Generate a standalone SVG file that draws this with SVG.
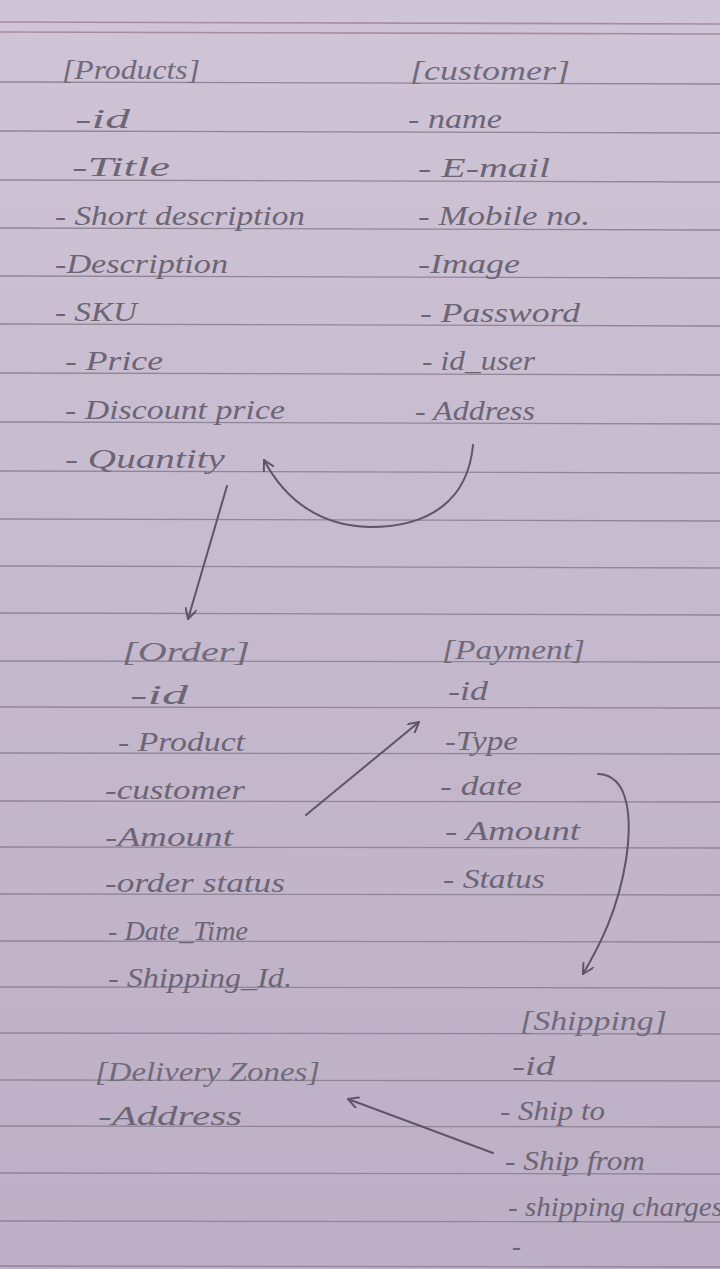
<svg xmlns="http://www.w3.org/2000/svg" width="720" height="1269" viewBox="0 0 720 1269">
<defs>
<linearGradient id="paper" x1="0" y1="0" x2="0" y2="1">
<stop offset="0" stop-color="#cfc5d6"/>
<stop offset="0.5" stop-color="#c5b9cd"/>
<stop offset="1" stop-color="#bdafc5"/>
</linearGradient>
<marker id="arr" markerWidth="12" markerHeight="12" refX="11" refY="6" orient="auto" markerUnits="userSpaceOnUse" viewBox="0 0 12 12">
<path d="M0,0 L11,6 L0,12" fill="none" stroke="#5e5668" stroke-width="2" stroke-linecap="round" stroke-linejoin="round"/>
</marker>
<style>
.rule{stroke:#8f8697;stroke-width:1.3}
.red{stroke:#a88b9c;stroke-width:1.6}
text{font-family:"Liberation Serif",serif;font-style:italic;font-size:27px;fill:#6c6576}
.h{fill:#716a7b}
.c{fill:none;stroke:#5e5668;stroke-width:2;stroke-linecap:round;marker-end:url(#arr)}
</style>
</defs>
<rect width="720" height="1269" fill="url(#paper)"/>
<g id="rules">
<line class="red" x1="0" y1="22" x2="720" y2="24"/>
<line class="red" x1="0" y1="32" x2="720" y2="34"/>
<line class="rule" x1="0" y1="82" x2="720" y2="84"/>
<line class="rule" x1="0" y1="131" x2="720" y2="133"/>
<line class="rule" x1="0" y1="180" x2="720" y2="182"/>
<line class="rule" x1="0" y1="228" x2="720" y2="230"/>
<line class="rule" x1="0" y1="276" x2="720" y2="278"/>
<line class="rule" x1="0" y1="324" x2="720" y2="326"/>
<line class="rule" x1="0" y1="373" x2="720" y2="375"/>
<line class="rule" x1="0" y1="422" x2="720" y2="424"/>
<line class="rule" x1="0" y1="471" x2="720" y2="473"/>
<line class="rule" x1="0" y1="519" x2="720" y2="521"/>
<line class="rule" x1="0" y1="566" x2="720" y2="568"/>
<line class="rule" x1="0" y1="613" x2="720" y2="615"/>
<line class="rule" x1="0" y1="661" x2="720" y2="662"/>
<line class="rule" x1="0" y1="707" x2="720" y2="708"/>
<line class="rule" x1="0" y1="753" x2="720" y2="754"/>
<line class="rule" x1="0" y1="801" x2="720" y2="802"/>
<line class="rule" x1="0" y1="847" x2="720" y2="848"/>
<line class="rule" x1="0" y1="894" x2="720" y2="895"/>
<line class="rule" x1="0" y1="941" x2="720" y2="942"/>
<line class="rule" x1="0" y1="987" x2="720" y2="988"/>
<line class="rule" x1="0" y1="1033" x2="720" y2="1034"/>
<line class="rule" x1="0" y1="1080" x2="720" y2="1081"/>
<line class="rule" x1="0" y1="1126" x2="720" y2="1127"/>
<line class="rule" x1="0" y1="1173" x2="720" y2="1174"/>
<line class="rule" x1="0" y1="1221" x2="720" y2="1222"/>
<line class="rule" x1="0" y1="1266" x2="720" y2="1267"/>
</g>
<g id="products">
<text class="h" x="62" y="79" textLength="138" lengthAdjust="spacingAndGlyphs">[Products]</text>
<text x="75" y="128" textLength="55" lengthAdjust="spacingAndGlyphs">-id</text>
<text x="72" y="176" textLength="98" lengthAdjust="spacingAndGlyphs">-Title</text>
<text x="55" y="225" textLength="250" lengthAdjust="spacingAndGlyphs">- Short description</text>
<text x="55" y="273" textLength="173" lengthAdjust="spacingAndGlyphs">-Description</text>
<text x="55" y="321" textLength="82" lengthAdjust="spacingAndGlyphs">- SKU</text>
<text x="65" y="370" textLength="98" lengthAdjust="spacingAndGlyphs">- Price</text>
<text x="65" y="419" textLength="220" lengthAdjust="spacingAndGlyphs">- Discount price</text>
<text x="65" y="468" textLength="160" lengthAdjust="spacingAndGlyphs">- Quantity</text>
</g>
<g id="customer">
<text class="h" x="410" y="80" textLength="160" lengthAdjust="spacingAndGlyphs">[customer]</text>
<text x="408" y="128" textLength="94" lengthAdjust="spacingAndGlyphs">- name</text>
<text x="418" y="177" textLength="132" lengthAdjust="spacingAndGlyphs">- E-mail</text>
<text x="418" y="225" textLength="172" lengthAdjust="spacingAndGlyphs">- Mobile no.</text>
<text x="418" y="273" textLength="102" lengthAdjust="spacingAndGlyphs">-Image</text>
<text x="420" y="322" textLength="160" lengthAdjust="spacingAndGlyphs">- Password</text>
<text x="422" y="370" textLength="113" lengthAdjust="spacingAndGlyphs">- id_user</text>
<text x="415" y="420" textLength="120" lengthAdjust="spacingAndGlyphs">- Address</text>
</g>
<g id="order">
<text class="h" x="122" y="661" textLength="128" lengthAdjust="spacingAndGlyphs">[Order]</text>
<text x="130" y="704" textLength="58" lengthAdjust="spacingAndGlyphs">-id</text>
<text x="118" y="751" textLength="127" lengthAdjust="spacingAndGlyphs">- Product</text>
<text x="105" y="799" textLength="140" lengthAdjust="spacingAndGlyphs">-customer</text>
<text x="105" y="846" textLength="128" lengthAdjust="spacingAndGlyphs">-Amount</text>
<text x="105" y="892" textLength="180" lengthAdjust="spacingAndGlyphs">-order status</text>
<text x="108" y="940" textLength="140" lengthAdjust="spacingAndGlyphs">- Date_Time</text>
<text x="108" y="987" textLength="184" lengthAdjust="spacingAndGlyphs">- Shipping_Id.</text>
</g>
<g id="payment">
<text class="h" x="442" y="659" textLength="143" lengthAdjust="spacingAndGlyphs">[Payment]</text>
<text x="448" y="700" textLength="40" lengthAdjust="spacingAndGlyphs">-id</text>
<text x="445" y="750" textLength="73" lengthAdjust="spacingAndGlyphs">-Type</text>
<text x="440" y="795" textLength="82" lengthAdjust="spacingAndGlyphs">- date</text>
<text x="445" y="840" textLength="135" lengthAdjust="spacingAndGlyphs">- Amount</text>
<text x="443" y="888" textLength="102" lengthAdjust="spacingAndGlyphs">- Status</text>
</g>
<g id="shipping">
<text class="h" x="520" y="1030" textLength="147" lengthAdjust="spacingAndGlyphs">[Shipping]</text>
<text x="512" y="1075" textLength="43" lengthAdjust="spacingAndGlyphs">-id</text>
<text x="500" y="1120" textLength="105" lengthAdjust="spacingAndGlyphs">- Ship to</text>
<text x="505" y="1170" textLength="140" lengthAdjust="spacingAndGlyphs">- Ship from</text>
<text x="508" y="1216" textLength="215" lengthAdjust="spacingAndGlyphs">- shipping charges</text>
<text x="512" y="1255">-</text>
</g>
<g id="delivery_zones">
<text class="h" x="95" y="1081" textLength="225" lengthAdjust="spacingAndGlyphs">[Delivery Zones]</text>
<text x="98" y="1125" textLength="144" lengthAdjust="spacingAndGlyphs">-Address</text>
</g>
<g id="connectors">
<path class="c" d="M473,445 C468,500 430,527 370,527 C320,526 285,500 264,460"/>
<path class="c" d="M227,486 L188,619"/>
<path class="c" d="M306,815 L419,722"/>
<path class="c" d="M598,774 C630,775 632,820 626,860 C618,910 600,945 583,974"/>
<path class="c" d="M493,1153 L348,1099"/>
</g>
</svg>
